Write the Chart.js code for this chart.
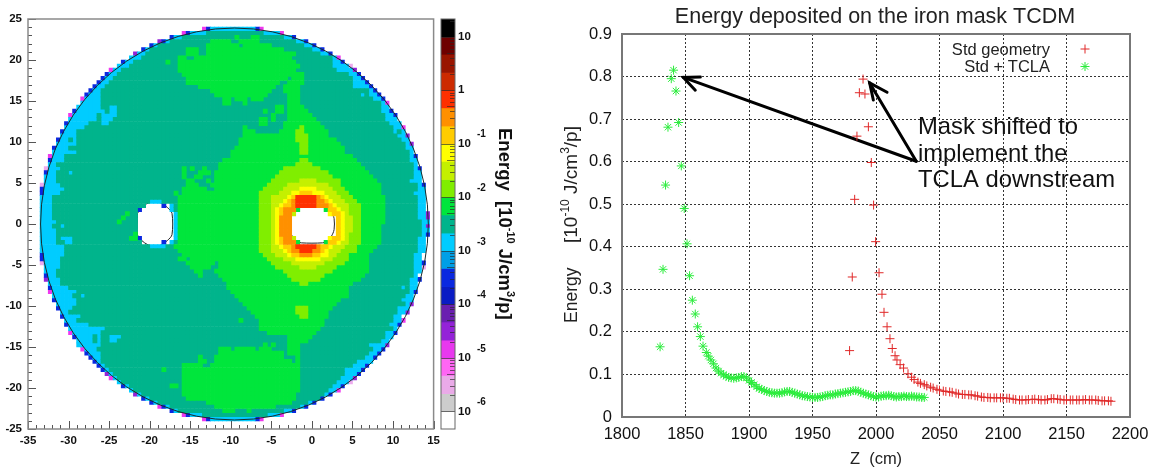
<!DOCTYPE html>
<html>
<head>
<meta charset="utf-8">
<title>Energy deposited on the iron mask TCDM</title>
<script src="https://cdn.jsdelivr.net/npm/chart.js@4"></script>
<style>
html,body{margin:0;padding:0;background:#fff;overflow:hidden;width:1157px;height:472px}
canvas{position:absolute;top:0}
#map{left:0}
#bar{left:436px}
#scan{left:560px}
</style>
</head>
<body>
<canvas id="map" width="445" height="472"></canvas>
<canvas id="bar" width="100" height="472"></canvas>
<canvas id="scan" width="630" height="472"></canvas>
<script>
// ---------- heat-map: one run-length row per half-cm step in y (letter = colour band, number = column where the run ends)
const cellRows = [
"","",
".43p44b45c56b57p58",
".38p39b40c44t58c62p63",
".35b36c38t51g52t55g57t63c65b66",
".32q33b34c35t45g50t52g57t66c68b69",
".30b31c32t44g52t53g60t68c70b71",
".28b29c30t39g42t44g63t70c72b73",
".26q27c29t39g42t44g66t72c74b75",
".25c28t37g39t41g65t75c76p77",
".23b24c26t34g35t37g66t75c77b78",
".22c25t37g67t75c79m80",
".20p21c23t37g66t76c80q81",
".19b20c22t38g68t79c81b82",
".18b19c21t39g64t65g68t80c82b83",
".17b18c20t39g62t64g68t80c83b84",
".16b17c19t42g61t63g67t80c84b85",
".15b16c18t45g60t63g67t84c85b86",
".14b15c18t46g59t64g67t82c83t84c86b87",
".13p14c18t48g50t51g54t55g58t64g67t85c87b88",
".13c18t48g50t53g54t64g67t87c88p89",
".12c18t20c22t61g63t64g68t87c89",
".11b12c19t20c22t58g59t61g63t64g69t87c89b90",
".10p11c17t18c22t60g61t64g70t88c90b91",
".10c17t18c21t57g59t60g61t64g71t88c91",
".9b10c15t18c20t57g59t63g72t89c92",
".9c14t53g54t63g67l68g73t90c92p93",
".8b9c12t53g56t62g66l68g74t90c91t92c93",
".8c12t53g66l69g74t91c93q94",
".7b8c10t11c12t52g66l69g76t92c94",
".7c12t52g67l69g77t93c94q95",
".6b7c10t51g67l69g78t93c95",
".6c12t50g67l69g78t94c95",
".5p6c9t50g80t94c95b96",
".5b6c9t48g67l69g81t94c96",
".5c7t47g66l70g82t95c96",
".4m5c8t38g39t40g41t43g44t47g63l72g83t95c96b97",
".4b5c7t10c11t38g39t42g45t46g62l74g84t95c97",
".4c7t38g39t41g43t46g61l75g85t95c97",
".4c7t39g41t44g45t46g60l67y71l77g86t94c97",
".3m4c8t39g42t45g59l64y74l77g87t96c97b98",
".3b4c9t38g44t46g58l63y67e71y75l78g87t96c98",
".3b4c8t36g37t38g57l62y65e67a70e73y76l79g87t95c98",
".3c6t37g57l60y64e65a66r71o72a73e74y77l80g88t96c98",
".3c6t30c33t37g57l60y63e64a65o66r71o73a74e75y78l81g88t96c98",
".3c6t29.33b34.35c36t37g57l60y62e63a65o66r71o74a75e76y79l82g88t96c98",
".3c6t27b28.35c36t37g57l60y61e62a63o66g67.73g74a76e77y79l82g88t96c98",
".3c6t24g25t27.36c37g57l60y61e62a63o65y66.74e75a77e78y79l82g88t96c98q99",
".3c6t23g24t27.36c37g57l60y61e62o65.76a77e78y80l82g88t96c98q99",
".3c7t22g23t27.36c37g57l60y61e62o65.76a77e78y80l82g88t97c99",
".3c6t8c9t27.36c37g57l60y61e62o65.76a77e78y80l82g87t97c98q99",
".3c7t27.36c37g57l60y61e62o65.76a77e78y80l82g87t97c99",
".3c7t26g27.36c37g57l60y61e62o65.76a77e78y79l82g87t97c98b99",
".3c7t8c11t25g27b28.36c37g57l60y61e62a63o65y66.74e75a77e78y79l82g87t96c98",
".3c7t9c11t28.33b34.35c36t37g57l60y61e62a63o66g67.73g74a76e77y79l82g87t96c98",
".3c9t30c34t36g57l60y62e63a65o66r71o72a74e75y78l81g86t96c98",
".3c9t37g57l60y63e64a65o67r70o72a73e74y77l81g85t96c98",
".3b4c9t38g58l61y64e65a67o70a72e74y76l79g84t95c97",
".3b4c8t37g39t40g59l63y66e72y75l79g84t95c97",
".3m4c8t39g46t47g60l65y73l78g84t95c97b98",
".4c8t40g45t47g61l67y71l76g84t95c97m98",
".4c7t41g43t46g63l75g84t95c97",
".4b5c7t42g43t47g64l73g83t95c96",
".4q5c8t48g65l72g82t94c96b97",
".5c8t49g67l69g80t94c96",
".5b6c10t49g79t92c93t94c96",
".5p6c12t50g79t94c95b96",
".6c11t13c14t51g79t93c95",
".6b7c12t52g77t92c95",
".7c12t53g76t93c94q95",
".7b8c11t54g66l69g75t91c94",
".8c10t55g66l69g74t91c93q94",
".8b9c13t56g67l69g74t90c92",
".9c12t52g53t57g73t90c92p93",
".9b10c15t57g73t89c91b92",
".10c19t57g72t90c91",
".10p11c18t59g71t88c90b91",
".11b12c16t17c18t20c23t64g70t88c90",
".12c16t17c18t20c22t64g69t87c89",
".12c18t58g59t60g61t64g67t84c88q89",
".13p14c17t47g50t51g56t57g60t64g67t85c87b88",
".14b15c18t47g63t64g67t84c86b87",
".15b16c18t42g43t46g63t66g67t83c85b86",
".16b17c18t42g44t46g65t66g67t81c85",
".17b18c19t38g43t45g67t80c83b84",
".18b19c20t33g34t38g67t78c82b83",
".19q20c21t38g67t78c81b82",
".20p21c22t38g67t77c80q81",
".22c23t38g67t76c79m80",
".23b24c25t35g37t38g67t75c77b78",
".25c26t38g67t74c76p77",
".26q27c28t38g66t73c74b75",
".28b29c30t39g66t72b73",
".30b31c32t44g65t69c70b71",
".32p33b34c35t46g61t67c68b69",
".35b36c37t48g51t54g55t63c65b66",
".38p39b40c43t59c62p63",
".43p44b45c56b57p58"
];
const cellLetters = ["r","o","a","e","y","l","g","t","c","b","q","p","m"];
const cellColours = ["#ff3000","#ff9000","#ffcc00","#ffff00","#c4f000","#80ee00","#00e63c","#00b48c","#00ccff","#0a28e0","#9422d8","#ee38ee","#eeaaee"];

const maskCentre = [-9.55, 0];
const maskRadius = 23.9;
const leftHole = [[-21.5,1.3],[-21,2],[-20.2,2.55],[-19.4,2.72],[-18.6,2.55],[-17.8,2],[-17.25,1.3],[-17.25,-1.3],[-17.8,-2],[-18.6,-2.55],[-19.4,-2.77],[-20.2,-2.55],[-21,-2],[-21.5,-1.3],[-21.5,1.3]];
const rightHole = [[-2.8,0.9],[-2.4,1.6],[-1.8,2.1],[-1.3,2.2],[1.3,2.2],[1.9,2.05],[2.4,1.5],[2.73,0.7],[2.73,-0.7],[2.4,-1.5],[1.9,-2.1],[1.3,-2.3],[-1.3,-2.3],[-1.9,-2.1],[-2.4,-1.5],[-2.8,-0.8],[-2.8,0.9]];

// ---------- colour bar
const bandEdges = [1.33,1,0.67,0.33,0,-0.33,-0.67,-1,-1.33,-1.67,-2,-2.33,-2.67,-3,-3.33,-3.67,-4,-4.33,-4.67,-5,-5.33,-5.67,-6,-6.33];
const bandColours = ["#000000","#6e0000","#991500","#cc2a00","#ff3000","#ff9000","#ffcc00","#ffff00","#c4f000","#80ee00","#00e63c","#00b48c","#00ccff","#009fe6","#0a28e0","#0a1cc4","#6a1fb0","#9422d8","#e838ee","#ff66f4","#eaaae8","#cccccc","#ffffff"];
const decades = [1,0,-1,-2,-3,-4,-5,-6];
const barExponents = [-1,-2,-3,-4,-5,-6];

// ---------- scan along Z
const stdZ = [1979.2,1981.3,1983.2,1985,1986.9,1989.8,1991.3,1994,1996.3,1998.1,1999.7,2002.4,2004.7,2006.3,2008.7,2011,2012.8,2015,2016.5,2019,2021.7,2025.2,2028,2030,2033,2035,2038,2040,2043,2045,2048,2050,2053,2055,2058,2060,2063,2065,2068,2070,2073,2075,2078,2080,2083,2085,2088,2090,2093,2095,2098,2100,2103,2105,2108,2110,2113,2115,2118,2120,2123,2125,2128,2130,2133,2135,2138,2140,2143,2145,2148,2150,2153,2155,2158,2160,2163,2165,2168,2170,2173,2175,2178,2180,2183,2185];
const stdE = [0.156,0.329,0.5115,0.66,0.762,0.794,0.759,0.682,0.598,0.498,0.412,0.339,0.2885,0.246,0.212,0.184,0.161,0.144,0.134,0.123,0.115,0.1016,0.0935,0.088,0.082,0.079,0.076,0.073,0.07,0.068,0.065,0.063,0.061,0.06,0.059,0.058,0.056,0.054,0.053,0.053,0.052,0.052,0.05,0.049,0.047,0.046,0.046,0.045,0.045,0.045,0.045,0.045,0.044,0.044,0.042,0.041,0.04,0.04,0.04,0.041,0.041,0.042,0.041,0.04,0.04,0.041,0.043,0.043,0.042,0.041,0.04,0.04,0.04,0.04,0.04,0.04,0.04,0.041,0.04,0.04,0.04,0.039,0.038,0.038,0.038,0.037];
const tclaZ = [1830,1832.3,1834.3,1836.2,1838.8,1840.6,1842.5,1844.6,1846.7,1849,1851.2,1853.2,1855.4,1857.7,1859.5,1861.7,1863.8,1866.4,1868,1870,1872,1874,1876,1878,1880,1882,1884,1886,1888,1890,1892,1894,1896,1898,1900,1902,1904,1906,1908,1910,1912,1914,1916,1918,1920,1922,1924,1926,1928,1930,1932,1934,1936,1938,1940,1942,1944,1946,1948,1950,1952,1954,1956,1958,1960,1962,1964,1966,1968,1970,1972,1974,1976,1978,1980,1982,1984,1986,1988,1990,1992,1994,1996,1998,2000,2002,2004,2006,2008,2010,2012,2014,2016,2018,2020,2022,2024,2026,2028,2030,2032,2034,2036,2038];
const tclaE = [0.165,0.347,0.545,0.681,0.795,0.815,0.766,0.692,0.59,0.49,0.407,0.332,0.2745,0.242,0.212,0.189,0.1665,0.1516,0.143,0.134,0.125,0.115,0.108,0.103,0.099,0.096,0.093,0.092,0.091,0.092,0.093,0.095,0.095,0.092,0.086,0.081,0.076,0.071,0.067,0.065,0.062,0.06,0.058,0.057,0.056,0.056,0.056,0.057,0.059,0.06,0.06,0.058,0.056,0.054,0.052,0.05,0.049,0.048,0.047,0.046,0.046,0.046,0.047,0.048,0.05,0.051,0.052,0.052,0.054,0.055,0.056,0.057,0.058,0.059,0.06,0.062,0.062,0.061,0.058,0.056,0.054,0.052,0.05,0.048,0.047,0.047,0.049,0.05,0.05,0.051,0.05,0.048,0.047,0.048,0.048,0.049,0.048,0.048,0.049,0.048,0.047,0.047,0.046,0.046];
const seriesNames = ["Std geometry","Std + TCLA"];
const noteLines = ["Mask shifted to","implement the","TCLA downstream"];
// arrows, in Z / energy units
const arrowOneShaft = [[2031.7,0.601],[1848.3,0.798]];
const arrowOneHead = [[1861.7,0.799],[1848.3,0.798],[1857.7,0.768]];
const arrowTwoShaft = [[2031.7,0.601],[1995,0.785]];
const arrowTwoHead = [[2008.7,0.763],[1995,0.785],[1997.9,0.745]];

const FONT = "'Liberation Sans', Arial, sans-serif";
Chart.defaults.font.family = FONT;
Chart.defaults.color = "#111";
Chart.defaults.animation = false;
const xy = a => a.map(p => ({x:p[0], y:p[1]}));
const INK = "#111";

// ---------- LEFT: heat-map
const cellSets = cellLetters.map((l,i) => ({
  label:l, data:[], pointStyle:"rect", pointRadius:3.4, pointHoverRadius:3.4, borderWidth:0,
  backgroundColor:cellColours[i], showLine:false
}));
cellRows.forEach((row,r) => {
  let col = 0;
  for (const m of row.matchAll(/([a-z.])(\d+)/g)) {
    const end = +m[2], k = cellLetters.indexOf(m[1]);
    if (k >= 0) for (let c = col; c < end; c++) cellSets[k].data.push({x:-35 + 0.5*c + 0.25, y:25 - 0.5*r - 0.25});
    col = end;
  }
});
const holeLine = h => ({data:xy(h), showLine:true, pointRadius:0, borderColor:"#222", borderWidth:1, fill:false, tension:0.3});

const mapFrame = {
  id:"mapFrame",
  afterDatasetsDraw(c){
    const {ctx, chartArea:a, scales:{x,y}} = c;
    ctx.save();
    ctx.strokeStyle = "#1a2a2a"; ctx.lineWidth = 1;
    ctx.beginPath();
    ctx.ellipse(x.getPixelForValue(maskCentre[0]), y.getPixelForValue(maskCentre[1]),
      Math.abs(x.getPixelForValue(maskRadius)-x.getPixelForValue(0)),
      Math.abs(y.getPixelForValue(maskRadius)-y.getPixelForValue(0)), 0, 0, 2*Math.PI);
    ctx.stroke();
    ctx.strokeStyle = "#555";
    for (let v=-35; v<=15; v++){
      const p = Math.round(x.getPixelForValue(v))+0.5, l = v%5===0?8:4;
      ctx.beginPath(); ctx.moveTo(p,a.bottom); ctx.lineTo(p,a.bottom-l); ctx.stroke();
    }
    for (let v=-25; v<=25; v++){
      const p = Math.round(y.getPixelForValue(v))+0.5, l = v%5===0?8:4;
      ctx.beginPath(); ctx.moveTo(a.left,p); ctx.lineTo(a.left+l,p); ctx.stroke();
    }
    ctx.strokeStyle = "#8a8a8a"; ctx.lineWidth = 1.5;
    ctx.strokeRect(a.left, a.top, a.right-a.left, a.bottom-a.top);
    ctx.restore();
  }
};
new Chart(document.getElementById("map"), {
  type:"scatter",
  data:{datasets:[...cellSets, holeLine(leftHole), holeLine(rightHole)]},
  plugins:[mapFrame],
  options:{
    responsive:false, devicePixelRatio:1,
    layout:{padding:{top:19,right:11,left:0,bottom:0}},
    plugins:{legend:{display:false},tooltip:{enabled:false}},
    scales:{
      x:{type:"linear",min:-35,max:15,
        afterFit(s){s.height=43},
        grid:{display:false,drawTicks:false},border:{display:false},
        ticks:{stepSize:5,autoSkip:false,maxRotation:0,padding:5,color:INK,font:{size:11.5,weight:"bold"}}},
      y:{type:"linear",min:-25,max:25,
        afterFit(s){s.width=28},
        grid:{display:false,drawTicks:false},border:{display:false},
        ticks:{stepSize:5,autoSkip:false,padding:6,color:INK,font:{size:11.5,weight:"bold"}}}
    }
  }
});

// ---------- MIDDLE: colour bar
function drawRun(ctx, parts, size, weight){
  let pos = 0;
  for (const [t,sup] of parts){
    ctx.font = `${weight} ${sup?Math.round(size*0.62):size}px ${FONT}`;
    ctx.fillText(t, pos, sup?-size*0.42:0);
    pos += ctx.measureText(t).width;
  }
}
const barFrame = {
  id:"barFrame",
  afterDatasetsDraw(c){
    const {ctx, chartArea:a, scales:{y}} = c;
    ctx.save();
    ctx.lineWidth = 1;
    ctx.strokeStyle = "rgba(40,40,40,0.65)";
    for (const d of decades) for (let k=1;k<10;k++){
      const v = k*Math.pow(10,d);
      if (v > y.max || v < y.min) continue;
      const p = Math.round(y.getPixelForValue(v))+0.5, l = k===1?a.right-a.left:(k===5?8:5);
      ctx.beginPath(); ctx.moveTo(a.right,p); ctx.lineTo(a.right-l,p); ctx.stroke();
    }
    ctx.strokeStyle = "#666";
    ctx.strokeRect(a.left, a.top, a.right-a.left, a.bottom-a.top);
    ctx.fillStyle = INK;
    ctx.font = `bold 10px ${FONT}`;
    ctx.textAlign = "left"; ctx.textBaseline = "middle";
    for (const e of barExponents) ctx.fillText(String(e), a.right+22, y.getPixelForValue(Math.pow(10,e))-9);
    ctx.translate(a.right+44, 128);
    ctx.rotate(Math.PI/2);
    ctx.textBaseline = "alphabetic";
    drawRun(ctx, [["Energy  [10",0],["-10",1],[" J/cm",0],["3",1],["/p]",0]], 18.5, "bold");
    ctx.restore();
  }
};
new Chart(document.getElementById("bar"), {
  type:"bar",
  data:{labels:["E"], datasets:bandColours.map((col,i) => ({
    label:"band "+i,
    data:[[Math.pow(10,bandEdges[i+1]), Math.pow(10,bandEdges[i])]],
    backgroundColor:col, borderWidth:0, barPercentage:1, categoryPercentage:1, grouped:false
  }))},
  plugins:[barFrame],
  options:{
    responsive:false, devicePixelRatio:1,
    layout:{padding:{top:19,left:5,right:0,bottom:43}},
    plugins:{legend:{display:false},tooltip:{enabled:false}},
    scales:{
      x:{display:false},
      y:{type:"logarithmic",position:"right",
        min:Math.pow(10,bandEdges[bandEdges.length-1]),max:Math.pow(10,bandEdges[0]),
        afterFit(s){s.width=81},
        afterBuildTicks(s){s.ticks = decades.map(d => ({value:Math.pow(10,d)}))},
        grid:{display:false,drawTicks:false},border:{display:false},
        ticks:{autoSkip:false,padding:3,color:INK,font:{size:11.5,weight:"bold"},
          callback(v){return Math.abs(v-1)<1e-9?"1":"10"}}}
    }
  }
});

// ---------- RIGHT: scan
const scanDecor = {
  id:"scanDecor",
  afterDatasetsDraw(c){
    const {ctx, chartArea:a, data} = c;
    ctx.save();
    ctx.strokeStyle = "#777"; ctx.lineWidth = 2;
    ctx.strokeRect(a.left, a.top, a.right-a.left, a.bottom-a.top);
    // legend: right-aligned names with a marker on the far side
    ctx.font = `16.5px ${FONT}`;
    ctx.textAlign = "right"; ctx.textBaseline = "alphabetic"; ctx.fillStyle = "#222";
    seriesNames.forEach((n,i) => {
      const ds = data.datasets[i], py = a.top + 15 + 17.5*i;
      ctx.fillText(n, a.left + 428, py + 5.5);
      ctx.strokeStyle = ds.borderColor; ctx.fillStyle = ds.borderColor; ctx.lineWidth = 1;
      Chart.helpers.drawPoint(ctx, {pointStyle:ds.pointStyle, radius:ds.pointRadius, rotation:0, borderWidth:1}, a.left + 463, py);
      ctx.fillStyle = "#222";
    });
    // note
    ctx.textAlign = "left"; ctx.fillStyle = "#111";
    ctx.font = `23.8px ${FONT}`;
    noteLines.forEach((t,i) => ctx.fillText(t, a.left + 296, a.top + 100 + 26.6*i));
    ctx.restore();
    // y title
    ctx.save();
    ctx.fillStyle = "#222";
    ctx.translate(17, 323); ctx.rotate(-Math.PI/2);
    drawRun(ctx, [["Energy",0]], 17.5, "normal");
    ctx.translate(80,0);
    drawRun(ctx, [["[10",0],["-10",1],[" J/cm",0],["3",1],["/p]",0]], 19, "normal");
    ctx.restore();
  }
};
const grid = {color:"#333", lineWidth:1, drawTicks:false};
const gridBorder = {display:false, dash:[2,2]};
const arrow = pts => ({data:xy(pts), showLine:true, pointRadius:0, borderColor:"#000", borderWidth:3, fill:false, borderCapStyle:"round"});
new Chart(document.getElementById("scan"), {
  type:"scatter",
  data:{datasets:[
    {label:seriesNames[0], data:stdZ.map((z,i)=>({x:z,y:stdE[i]})), pointStyle:"cross", pointRadius:4.5, pointBorderWidth:1, borderWidth:1, borderColor:"#e02828", backgroundColor:"#e02828"},
    {label:seriesNames[1], data:tclaZ.map((z,i)=>({x:z,y:tclaE[i]})), pointStyle:"star", pointRadius:4.5, pointBorderWidth:1, borderWidth:1, borderColor:"#2bec3c", backgroundColor:"#2bec3c"},
    arrow(arrowOneShaft), arrow(arrowOneHead), arrow(arrowTwoShaft), arrow(arrowTwoHead)
  ]},
  plugins:[scanDecor],
  options:{
    responsive:false, devicePixelRatio:1,
    layout:{padding:0},
    plugins:{
      legend:{display:false},tooltip:{enabled:false},
      title:{display:true,text:"Energy deposited on the iron mask TCDM",color:"#222",
        font:{size:21.5,weight:"normal"},padding:{top:4,bottom:4.2}}
    },
    scales:{
      x:{type:"linear",min:1800,max:2200,
        afterFit(s){s.height=55},
        grid,border:gridBorder,
        ticks:{stepSize:50,autoSkip:false,maxRotation:0,padding:8,color:"#111",font:{size:16.5},
          callback(v){return String(v)}},
        title:{display:true,text:"Z  (cm)",color:"#222",font:{size:16.5},padding:{top:0,bottom:3}}},
      y:{type:"linear",min:0,max:0.9,
        afterFit(s){s.width=62},
        grid,border:gridBorder,
        ticks:{stepSize:0.1,autoSkip:false,padding:10,color:"#111",font:{size:16.5},
          callback(v){return v===0?"0":v.toFixed(1)}}},
      spare:{type:"linear",position:"right",min:0,max:1,
        afterFit(s){s.width=60},
        grid:{display:false,drawTicks:false},border:{display:false},ticks:{display:false}}
    }
  }
});
</script>
</body>
</html>
